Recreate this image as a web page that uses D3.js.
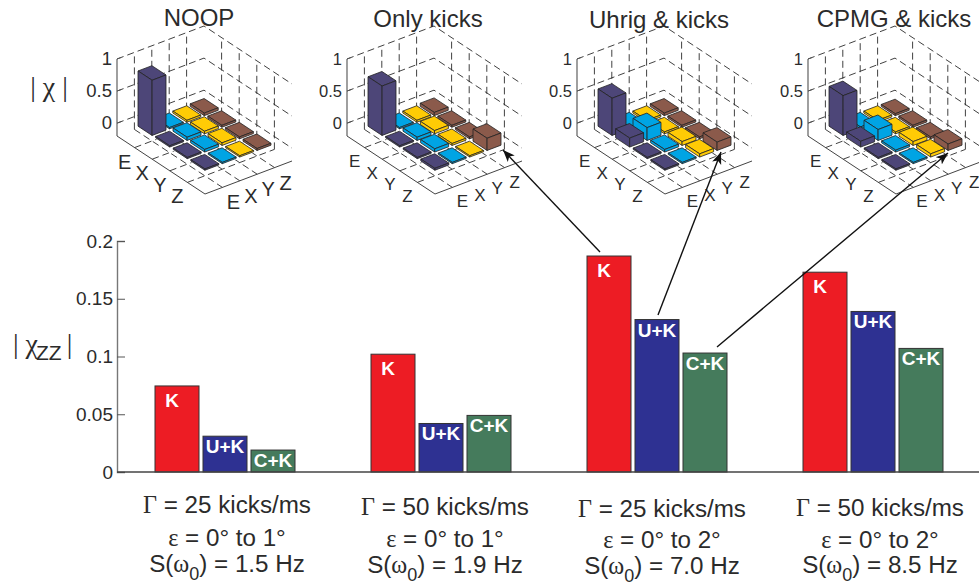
<!DOCTYPE html>
<html><head><meta charset="utf-8">
<script src="https://cdn.jsdelivr.net/npm/d3@7/dist/d3.min.js"></script>
<style>html,body{margin:0;padding:0;background:#fff}svg{display:block}text{font-family:"Liberation Sans",Arial,sans-serif;fill:#2b2b2b}</style>
</head><body><svg id="c" width="979" height="586"></svg>
<script>
// ---- data ----
const panelTitles = ["NOOP", "Only kicks", "Uhrig & kicks", "CPMG & kicks"];
const basis = ["E", "X", "Y", "Z"];
const zTicks = [0, 0.5, 1];
const chiNoop  = [[0.86,0.02,0.03,0.04],[0.02,0.05,0.04,0.03],[0.02,0.04,0.04,0.03],[0.02,0.02,0.02,0.03]];
const chiKicks = [[0.77,0.02,0.03,0.05],[0.02,0.05,0.05,0.03],[0.02,0.05,0.03,0.03],[0.03,0.02,0.02,0.19]];
const chiUhrig = [[0.58,0.03,0.03,0.04],[0.14,0.20,0.03,0.03],[0.02,0.04,0.06,0.03],[0.02,0.02,0.05,0.13]];
const chiCpmg  = [[0.62,0.03,0.03,0.03],[0.09,0.17,0.03,0.03],[0.02,0.03,0.06,0.03],[0.02,0.02,0.05,0.10]];
const columnColors = ["#4d4678","#00a4e4","#ffcb05","#8b5a4b"];

const seriesNames = ["K","U+K","C+K"];
const seriesColors = ["#ed1c24","#2e3192","#457b5c"];
const valuesK  = [0.0745,0.102,0.187,0.173];
const valuesUK = [0.031,0.042,0.132,0.139];
const valuesCK = [0.019,0.049,0.103,0.107];
const yTicks = [0,0.05,0.1,0.15,0.2];
const gammaLabels = ["25","50","25","50"];
const epsilonLabels = ["1","1","2","2"];
const spectrumLabels = ["1.5","1.9","7.0","8.5"];

// ---- layout ----
const svg = d3.select("#c");
const panelLeft = [117,347,577,808];
const panelFont = [{t:20,z:18.5},{t:17,z:16.5},{t:17,z:16.5},{t:17,z:16.5}];
const titleX = [199,428,659,894], titleY = [26,27,28,27];
const iX = d3.scaleLinear().domain([0,5]).range([0,88]);
const iY = d3.scaleLinear().domain([0,5]).range([0,58]);
const jX = d3.scaleLinear().domain([0,5]).range([0,87]);
const jY = d3.scaleLinear().domain([0,5]).range([0,-33]);
const zS = d3.scaleLinear().domain([-0.2,1]).range([136,59]);
const lineGen = d3.line();

function drawPanel(k, chi){
  const g = svg.append("g").attr("transform",`translate(${panelLeft[k]},0)`);
  const P = (i,j,z) => [iX(i)+jX(j), iY(i)+jY(j)+zS(z)];
  const dashed = pts => g.append("path").attr("d",lineGen(pts)).attr("fill","none")
      .attr("stroke","#2b2b2b").attr("stroke-width",0.9).attr("stroke-dasharray","7,4");
  const zTop=1, zBot=-0.2;
  zTicks.forEach(z=>dashed([P(0,0,z),P(0,5,z),P(5,5,z)]));
  [1,2,3,4].forEach(t=>{
    dashed([P(0,t,zBot),P(0,t,zTop)]);
    dashed([P(t,5,zBot),P(t,5,zTop)]);
    dashed([P(t,0,zBot),P(t,5,zBot)]);
    dashed([P(0,t,zBot),P(5,t,zBot)]);
  });
  g.append("path").attr("d",lineGen([P(0,0,zTop),P(0,0,zBot)])).attr("fill","none").attr("stroke","#777").attr("stroke-width",1.4);
  g.append("path").attr("d",lineGen([P(0,0,zBot),P(5,0,zBot),P(5,5,zBot)])).attr("fill","none").attr("stroke","#444").attr("stroke-width",1);
  zTicks.forEach(z=>{
    g.append("path").attr("d",lineGen([P(0,0,z),[P(0,0,z)[0]+4,P(0,0,z)[1]-1.5]])).attr("stroke","#555").attr("fill","none");
    g.append("text").attr("x",-5).attr("y",P(0,0,z)[1]+6).attr("text-anchor","end")
      .attr("font-size",panelFont[k].z).text(z);
  });
  // bars, painted back to front
  const w = 0.4;
  for(let i=1;i<=4;i++){
    for(let j=4;j>=1;j--){
      const v = chi[i-1][j-1], col = columnColors[j-1];
      const faces = [
        [P(i-w,j-w,v),P(i-w,j+w,v),P(i+w,j+w,v),P(i+w,j-w,v)],
        [P(i-w,j-w,0),P(i+w,j-w,0),P(i+w,j-w,v),P(i-w,j-w,v)],
        [P(i+w,j-w,0),P(i+w,j+w,0),P(i+w,j+w,v),P(i+w,j-w,v)]
      ];
      // white halo separates the tiles, as in the reference
      g.append("path").attr("d",lineGen([P(i-w,j-w,0),P(i+w,j-w,0),P(i+w,j+w,0),P(i-w,j+w,0)])+"Z")
        .attr("fill","#fff").attr("stroke","#fff").attr("stroke-width",2);
      faces.forEach(f=>g.append("path").attr("d",lineGen(f)+"Z").attr("fill",col)
        .attr("stroke","#222").attr("stroke-width",0.8).attr("stroke-linejoin","round"));
    }
  }
  basis.forEach((b,n)=>{
    const a = P(n+1,0,zBot), c = P(5,n+1,zBot);
    const o = k===0?[-10,14,11,15]:[-10,12.5,k===3?8.5:10,13];
    g.append("text").attr("x",a[0]+o[0]).attr("y",a[1]+o[1]+7).attr("text-anchor","middle").attr("font-size",panelFont[k].t).text(b);
    g.append("text").attr("x",c[0]+o[2]).attr("y",c[1]+o[3]+7).attr("text-anchor","middle").attr("font-size",panelFont[k].t).text(b);
  });
  svg.append("text").attr("x",titleX[k]).attr("y",titleY[k]).attr("text-anchor","middle").attr("font-size",24).text(panelTitles[k]);
}
[chiNoop,chiKicks,chiUhrig,chiCpmg].forEach((m,k)=>drawPanel(k,m));

// |chi| label
svg.append("text").attr("x",49).attr("y",96).attr("text-anchor","middle").attr("font-size",28)
  .style("font-family","'Liberation Serif',serif").text("| χ |");

// ---- lower bars ----
const y = d3.scaleLinear().domain([0,0.2]).range([472,241]);
const xG = d3.scaleBand().domain(d3.range(4)).range([117,981]);
const xS = d3.scaleBand().domain(seriesNames).range([xG.bandwidth()/2-70,xG.bandwidth()/2+70]).paddingInner(1/12);
const seriesValues = [valuesK,valuesUK,valuesCK];
const labelDy = [21,17,17], labelDx=[-5,0,0];
seriesNames.forEach((s,si)=>{
  seriesValues[si].forEach((v,gi)=>{
    const x0 = xG(gi)+xS(s);
    svg.append("rect").attr("x",x0).attr("y",y(v)).attr("width",xS.bandwidth()).attr("height",y(0)-y(v))
      .attr("fill",seriesColors[si]).attr("stroke","#333").attr("stroke-width",1);
    svg.append("text").attr("x",x0+xS.bandwidth()/2+labelDx[si]).attr("y",y(v)+labelDy[si])
      .attr("text-anchor","middle").attr("font-weight","bold").attr("font-size",19)
      .style("fill","#fff").text(s);
  });
});
const axis = d3.axisLeft(y).tickValues(yTicks).tickSize(-8).tickPadding(11).tickFormat(d=>String(d));
const ag = svg.append("g").attr("transform","translate(117,0)").call(axis);
ag.selectAll("text").attr("font-size",19).style("font-family","'Liberation Sans',Arial,sans-serif").attr("dx",7);
ag.selectAll("line").attr("stroke","#555");
ag.select(".domain").attr("stroke","#777").attr("stroke-width",1.4);
svg.append("line").attr("x1",117).attr("x2",979).attr("y1",472).attr("y2",472).attr("stroke","#444").attr("stroke-width",1.5);

// |chi_ZZ| label
const yl = svg.append("text").attr("x",13).attr("y",353).attr("font-size",28).style("font-family","'Liberation Serif',serif");
yl.append("tspan").text("| χ");
yl.append("tspan").attr("dy",7).attr("dx",-2).attr("font-size",21).style("font-family","'Liberation Sans',sans-serif").text("ZZ");
yl.append("tspan").attr("dy",-7).attr("dx",5).text("|");

// ---- condition labels ----
const capX = [227,445,662,880];
const capY = [[513,546,572],[515,547,573],[517,548,574],[516,548,573]];
const serif = "'Liberation Serif',serif";
const capSize = 24.2;
capX.forEach((cx,n)=>{
  const a = svg.append("text").attr("x",cx).attr("y",capY[n][0]).attr("text-anchor","middle").attr("font-size",capSize);
  a.append("tspan").style("font-family",serif).text("Γ");
  a.append("tspan").text(` = ${gammaLabels[n]} kicks/ms`);
  const b = svg.append("text").attr("x",cx).attr("y",capY[n][1]).attr("text-anchor","middle").attr("font-size",capSize);
  b.append("tspan").style("font-family",serif).text("ε");
  b.append("tspan").text(` = 0° to ${epsilonLabels[n]}°`);
  const c = svg.append("text").attr("x",cx).attr("y",capY[n][2]).attr("text-anchor","middle").attr("font-size",capSize);
  c.append("tspan").text("S(");
  c.append("tspan").style("font-family",serif).text("ω");
  c.append("tspan").attr("dy",8).attr("font-size",18).text("0");
  c.append("tspan").attr("dy",-8).text(`) = ${spectrumLabels[n]} Hz`);
});

// ---- arrows ----
const arrowFrom = [[600,252],[658,315],[717,347]];
const arrowTo = [[503,150],[721,152],[948,153]];
svg.append("defs").append("marker").attr("id","ah").attr("viewBox","0 0 10 8").attr("refX",10).attr("refY",4)
  .attr("markerWidth",12).attr("markerHeight",10).attr("markerUnits","userSpaceOnUse").attr("orient","auto")
  .append("path").attr("d","M0,0L10,4L0,8L2.5,4Z").attr("fill","#111");
arrowFrom.forEach((p,n)=>svg.append("path").attr("d",lineGen([p,arrowTo[n]])).attr("stroke","#111").attr("stroke-width",1.4)
  .attr("fill","none").attr("marker-end","url(#ah)"));
</script></body></html>
